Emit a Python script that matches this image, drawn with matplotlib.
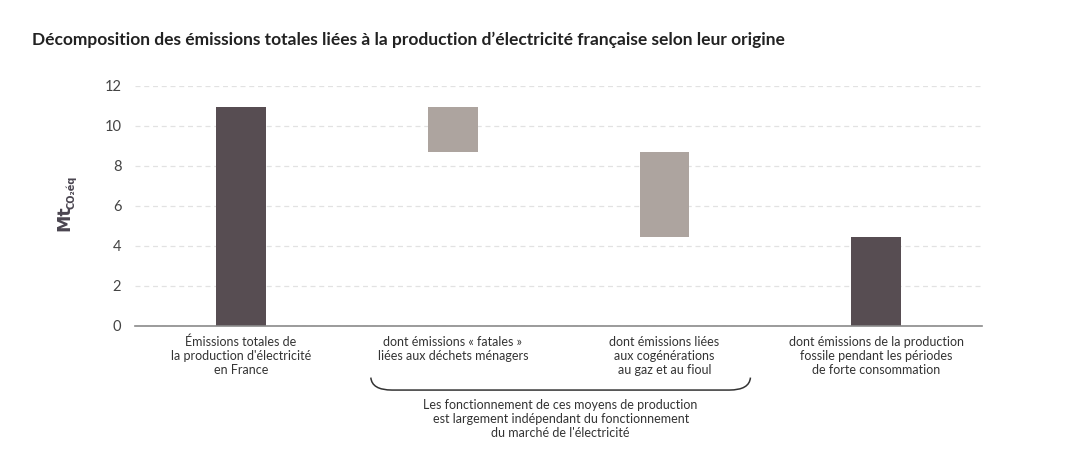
import numpy as np
import matplotlib.pyplot as plt
from matplotlib.path import Path
from matplotlib.patches import PathPatch
import matplotlib.transforms as mtransforms

plt.rcParams['font.family'] = ['Lato', 'DejaVu Sans']

# Data (Mt CO2eq)
categories = ["Émissions totales de\nla production d'électricité\nen France",
              "dont émissions « fatales »\nliées aux déchets ménagers",
              "dont émissions liées\naux cogénérations\nau gaz et au fioul",
              "dont émissions de la production\nfossile pendant les périodes\nde forte consommation"]
bar_tops = [10.95, 10.95, 8.7, 4.45]
bar_bottoms = [0.0, 8.7, 4.45, 0.0]
bar_colors = ['#574d52', '#ada49f', '#ada49f', '#574d52']
yticks = [0, 2, 4, 6, 8, 10, 12]

fig = plt.figure(figsize=(10.9, 4.67), dpi=100)
ax = fig.add_axes([0.124, 0.302, 0.777, 0.514])

x = np.arange(len(categories))
heights = np.array(bar_tops) - np.array(bar_bottoms)
ax.bar(x, heights, bottom=bar_bottoms, width=0.235, color=bar_colors, zorder=3)

ax.set_xlim(-0.5, 3.5)
ax.set_ylim(0, 12)
ax.set_yticks(yticks)
ax.set_xticks([])
ax.tick_params(axis='y', length=0, labelsize=10.5, labelcolor='#444444', pad=10)
ax.grid(axis='y', linestyle=(0, (4, 3)), color='#e2e2e2', linewidth=0.9, zorder=0)
for s in ['top', 'right', 'left']:
    ax.spines[s].set_visible(False)
ax.spines['bottom'].set_color('#8a8a8a')
ax.spines['bottom'].set_linewidth(1.2)
ax.spines['bottom'].set_zorder(4)

# y label: bold "Mt" with a small subscript
fig.text(64 / 1090, 1 - 231 / 467, "Mt", rotation=90, ha='center', va='bottom',
         fontsize=12.5, fontweight='bold', color='#4a4550', family='DejaVu Sans')
fig.text(71 / 1090, 1 - 209 / 467, "CO₂éq", rotation=90, ha='center', va='bottom',
         fontsize=7, fontweight='bold', color='#4a4550', family='DejaVu Sans')

trans = mtransforms.blended_transform_factory(ax.transData, ax.transAxes)
for xi, lab in zip(x, categories):
    ax.text(xi, -0.04, lab, transform=trans, ha='center', va='top',
            fontsize=9, color='#333333', linespacing=1.2)

# brace under the two middle categories
xl, xr = 0.613, 2.406
yb, yt = -0.267, -0.215
c = 0.1
verts = [(xl, yt), (xl + 0.005, yb), (xl + c, yb),
         (xr - c, yb), (xr - 0.005, yb), (xr, yt)]
codes = [Path.MOVETO, Path.CURVE3, Path.CURVE3,
         Path.LINETO, Path.CURVE3, Path.CURVE3]
ax.add_patch(PathPatch(Path(verts, codes), transform=trans, fill=False,
                       edgecolor='#333333', linewidth=1.1, clip_on=False))

ax.text((xl + xr) / 2, -0.305,
        "Les fonctionnement de ces moyens de production\nest largement indépendant du fonctionnement\ndu marché de l'électricité",
        transform=trans, ha='center', va='top', fontsize=9, color='#333333', linespacing=1.2)

fig.text(0.029, 0.915, "Décomposition des émissions totales liées à la production d’électricité française selon leur origine",
         fontsize=12.5, fontweight='bold', color='#222222', ha='left', va='center')

fig.savefig('out.png', dpi=100)
